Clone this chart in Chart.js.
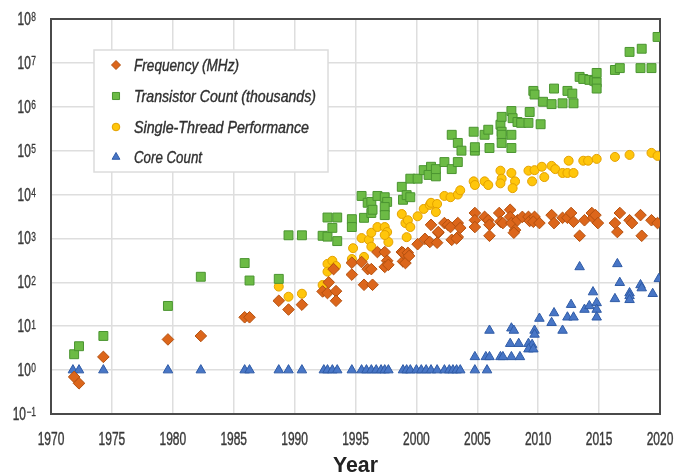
<!DOCTYPE html>
<html>
<head>
<meta charset="utf-8">
<script src="https://cdn.jsdelivr.net/npm/chart.js@4/dist/chart.umd.min.js"></script>
<style>
  html, body { margin: 0; padding: 0; background: #fff; }
  #wrap { width: 677px; height: 476px; }
</style>
</head>
<body>
<div id="wrap"><canvas id="trendChart" width="677" height="476"></canvas></div>
<script>
// --- DATA ---
const yearTicks = [1970, 1975, 1980, 1985, 1990, 1995, 2000, 2005, 2010, 2015, 2020];
const decadeTicks = [-1, 0, 1, 2, 3, 4, 5, 6, 7, 8];
const xTitle = "Year";

const freqYears = [1971.9, 1972.3, 1974.3, 1979.6, 1982.3, 1985.9, 1986.3, 1988.7, 1989.5, 1990.6,
  1992.3, 1992.7, 1992.8, 1993.2, 1993.4, 1993.4, 1994.7, 1994.7, 1995.5, 1995.7, 1996.4, 1996.0,
  1996.3, 1996.8, 1997.4, 1997.6, 1997.4, 1997.7, 1998.8, 1998.9, 1998.9, 1999.3, 1999.1, 1999.4,
  2000.1, 2000.7, 2001.1, 2001.7, 2001.8, 2002.9, 2003.4, 2003.3, 2001.2, 2001.8, 2002.3, 2002.6,
  2002.8, 2003.4, 2003.6, 2004.8, 2004.8, 2004.8, 2005.6, 2005.9, 2006.0, 2006.0, 2006.8, 2006.9,
  2007.1, 2007.7, 2007.7, 2007.8, 2008.1, 2008.0, 2008.3, 2008.7, 2009.2, 2009.3, 2009.7, 2009.6,
  2010.1, 2011.1, 2011.3, 2012.0, 2012.4, 2012.7, 2012.9, 2013.4, 2013.8, 2014.4, 2014.5, 2014.7,
  2014.9, 2016.3, 2016.5, 2016.7, 2017.5, 2017.7, 2018.4, 2018.5, 2019.3, 2019.8];
const freqValues = [0.7, 0.5, 2, 5, 6, 16, 16, 38, 24, 31,
  62, 57, 100, 200, 63, 38, 280, 150, 290, 88, 88, 200,
  200, 490, 490, 310, 225, 250, 490, 300, 470, 470, 275, 400,
  740, 980, 830, 800, 1350, 930, 1080, 1000, 2040, 1400, 2240, 2040,
  1820, 2240, 1740, 3800, 2600, 1820, 3100, 2600, 2050, 1150, 3800, 2400,
  2240, 4500, 3100, 2240, 1550, 1350, 2600, 3100, 3100, 2500, 3100, 2400,
  2240, 3400, 2240, 2950, 2950, 3800, 2400, 1150, 2600, 3800, 2950, 3400,
  2240, 2240, 1400, 3800, 2600, 2240, 3400, 1150, 2600, 2240];

const transYears = [1971.9, 1972.3, 1974.3, 1979.6, 1982.3, 1985.9, 1986.3, 1988.7, 1989.5, 1990.6,
  1992.3, 1992.7, 1993.1, 1992.7, 1993.5, 1993.5, 1994.7, 1994.7, 1995.5, 1995.7, 1996.0, 1996.3,
  1996.3, 1996.4, 1996.8, 1997.4, 1997.6, 1997.4, 1997.4, 1998.8, 1998.9, 1999.2, 1999.5, 1999.5,
  2000.1, 2000.6, 2001.2, 2001.0, 2001.6, 2001.6, 2002.3, 2002.9, 2003.4, 2002.9, 2003.4, 2003.7,
  2004.7, 2004.8, 2004.8, 2005.6, 2005.9, 2006.0, 2006.9, 2007.0, 2007.0, 2007.0, 2007.8, 2007.8,
  2007.0, 2007.8, 2007.9, 2008.3, 2008.6, 2009.2, 2010.2, 2009.3, 2009.6, 2009.7, 2010.4, 2011.1,
  2012.0, 2012.9, 2011.3, 2012.4, 2012.8, 2013.4, 2013.7, 2014.2, 2014.6, 2014.8, 2014.8, 2014.8,
  2016.3, 2016.7, 2017.5, 2018.5, 2018.4, 2019.3, 2019.8];
const transValues = [2.3, 3.5, 6, 29, 134, 275, 110, 120, 1180, 1180,
  1150, 1100, 1740, 3000, 3000, 870, 2750, 1820, 9300, 2950, 6500, 6800,
  3800, 4500, 9300, 8700, 6800, 5200, 3400, 15000, 7600, 9700, 8700, 23000,
  23000, 36000, 43000, 28000, 26000, 38000, 55000, 38000, 55000, 230000, 150000, 100000,
  270000, 100000, 120000, 230000, 300000, 115000, 390000, 270000, 230000, 150000, 230000, 115000,
  590000, 800000, 550000, 450000, 430000, 430000, 400000, 760000, 2300000, 1900000, 1300000, 1150000,
  1200000, 1200000, 2600000, 2300000, 2000000, 4800000, 4300000, 4100000, 3900000, 5900000, 3600000, 2600000,
  6900000, 7600000, 17800000, 21000000, 7600000, 7600000, 39000000];

const perfYears = [1988.7, 1989.5, 1990.6, 1992.3, 1992.7, 1993.1, 1992.7, 1993.4, 1994.7, 1994.8,
  1995.5, 1995.7, 1996.1, 1996.3, 1996.3, 1996.8, 1997.4, 1997.6, 1997.7, 1997.4, 1998.8, 1999.1,
  1999.3, 1999.5, 1999.2, 2000.1, 2000.6, 2001.1, 2001.2, 2001.7, 2001.6, 2002.3, 2002.8, 2003.4,
  2003.6, 2004.7, 2004.8, 2005.6, 2005.9, 2006.9, 2007.0, 2006.9, 2007.8, 2008.1, 2007.9, 2009.2,
  2009.7, 2010.3, 2009.5, 2010.5, 2011.1, 2011.4, 2012.0, 2012.4, 2012.9, 2012.5, 2013.7, 2014.1,
  2014.8, 2016.3, 2017.5, 2019.3, 2019.8];
const perfValues = [80, 47, 55, 87, 263, 310, 175, 235, 340, 600,
  1020, 380, 930, 1350, 650, 1820, 1820, 1400, 830, 1200, 3600, 2240,
  2600, 1820, 1070, 3200, 4700, 5800, 6500, 6100, 4000, 9300, 8700, 10000,
  12500, 20000, 16500, 20000, 16500, 35000, 23000, 18000, 31000, 20000, 14000, 35000,
  36000, 43000, 20000, 25000, 45000, 38000, 31000, 31000, 31000, 59000, 59000, 59000,
  65000, 72000, 80000, 89000, 76000];

const coreYears = [1971.8, 1972.3, 1974.3, 1979.6, 1982.3, 1985.9, 1986.3, 1988.7, 1989.5, 1990.6,
  1992.4, 1992.7, 1993.1, 1993.5, 1994.7, 1995.5, 1995.9, 1996.3, 1996.7, 1997.1, 1997.4, 1997.7,
  1998.9, 1999.2, 1999.5, 2000.0, 2000.4, 2000.8, 2001.2, 2001.7, 2002.3, 2002.7, 2003.0, 2003.3,
  2003.6, 2004.8, 2005.8, 2004.8, 2005.7, 2006.0, 2006.0, 2006.9, 2007.1, 2007.8, 2008.5, 2007.7,
  2008.4, 2007.8, 2008.0, 2009.2, 2009.5, 2009.2, 2009.6, 2009.7, 2009.7, 2010.1, 2011.1, 2011.3,
  2012.0, 2012.4, 2012.9, 2012.7, 2013.4, 2013.8, 2014.2, 2014.5, 2014.8, 2014.8, 2014.8, 2016.3,
  2016.5, 2016.7, 2017.5, 2017.5, 2017.5, 2018.4, 2018.5, 2019.4, 2019.9];
const coreValues = [1, 1, 1, 1, 1, 1, 1, 1, 1, 1,
  1, 1, 1, 1, 1, 1, 1, 1, 1, 1, 1, 1,
  1, 1, 1, 1, 1, 1, 1, 1, 1, 1, 1, 1,
  1, 1, 1, 2, 2, 2, 8, 2, 2, 2, 2, 4,
  4, 9, 8, 4, 3.8, 3, 3, 8, 6.5, 15, 12, 20,
  8, 16, 16, 31, 224, 24, 29, 60, 34, 24, 16, 42,
  263, 98, 57, 49, 40, 87, 74, 55, 120];

const seriesLabels = ["Frequency (MHz)", "Transistor Count (thousands)", "Single-Thread Performance", "Core Count"];

// --- HELPERS ---
const FONT = "'Liberation Sans', 'Arial', sans-serif";
const SQUEEZE = 0.63; // the original uses a narrow DIN-like face

function pts(xs, ys) {
  return xs.map((x, i) => ({ x: x, y: ys[i] }));
}

// draw text squeezed horizontally, anchored at x by align
function squeezed(ctx, text, x, y, sx, align, heavy) {
  const w = ctx.measureText(text).width * sx;
  let left = x;
  if (align === "center") left = x - w / 2;
  if (align === "right") left = x - w;
  ctx.save();
  ctx.translate(left, y);
  ctx.scale(sx, 1);
  ctx.textAlign = "left";
  ctx.fillText(text, 0, 0);
  if (heavy) {
    ctx.strokeStyle = ctx.fillStyle;
    ctx.lineWidth = heavy;
    ctx.strokeText(text, 0, 0);
  }
  ctx.restore();
  return w;
}

// axis labels, legend and frame drawn on top of the library scales
const decorations = {
  id: "decorations",
  beforeDatasetsDraw(chart) {
    const { ctx, chartArea: a } = chart;
    ctx.save();
    ctx.strokeStyle = "#4a4a4a";
    ctx.lineWidth = 2;
    ctx.strokeRect(a.left, a.top, a.right - a.left, a.bottom - a.top);
    ctx.restore();
  },
  afterDatasetsDraw(chart) {
    const { ctx } = chart;
    const xs = chart.scales.x, ys = chart.scales.y;
    ctx.save();

    // legend box
    ctx.fillStyle = "#fff";
    ctx.strokeStyle = "#dcdcdc";
    ctx.lineWidth = 1.5;
    ctx.fillRect(94, 50, 234, 122);
    ctx.strokeRect(94, 50, 234, 122);
    const rows = [65, 96, 127, 157];
    const widths = [105, 182, 175, 68];
    const markR = [4.5, 5, 3.8, 4.5];
    chart.data.datasets.forEach((ds, i) => {
      ctx.fillStyle = ds.backgroundColor;
      ctx.strokeStyle = ds.borderColor;
      ctx.lineWidth = 1;
      Chart.helpers.drawPoint(ctx, {
        pointStyle: ds.pointStyle, radius: markR[i], rotation: 0, borderWidth: 1
      }, 116, rows[i]);
      ctx.fillStyle = "#303030";
      ctx.font = "italic 17px " + FONT;
      ctx.textBaseline = "middle";
      const natural = ctx.measureText(ds.label).width;
      squeezed(ctx, ds.label, 134, rows[i] + 1, widths[i] / natural, "left", 0.4);
    });

    // x tick labels
    ctx.fillStyle = "#3a3a3a";
    ctx.font = "19px " + FONT;
    ctx.textBaseline = "middle";
    yearTicks.forEach(v => {
      squeezed(ctx, String(v), xs.getPixelForValue(v), 440, SQUEEZE, "center", 0.45);
    });

    // y tick labels: 10 with a raised exponent
    decadeTicks.forEach(e => {
      const py = ys.getPixelForValue(Math.pow(10, e));
      ctx.font = "12px " + FONT;
      ctx.textBaseline = "top";
      const ew = squeezed(ctx, String(e).replace("-", "\u2212"), 36, py - 7, 0.7, "right", 0.3);
      ctx.font = "18px " + FONT;
      ctx.textBaseline = "middle";
      squeezed(ctx, "10", 36 - ew - 0.5, py + 1, 0.66, "right", 0.45);
    });

    // axis title
    ctx.fillStyle = "#222";
    ctx.font = "bold 22px " + FONT;
    ctx.textBaseline = "middle";
    const tw = ctx.measureText(xTitle).width;
    squeezed(ctx, xTitle, (chart.chartArea.left + chart.chartArea.right) / 2, 466, 45 / tw, "center");

    ctx.restore();
  }
};

function createChart() {
  const ctx = document.getElementById("trendChart").getContext("2d");
  return new Chart(ctx, {
    type: "scatter",
    data: {
      datasets: [{
        label: seriesLabels[0],
        data: pts(freqYears, freqValues),
        pointStyle: "rectRot",
        pointRadius: 5.8,
        backgroundColor: "#dc661b",
        borderColor: "#b3500f",
        borderWidth: 1
      }, {
        label: seriesLabels[1],
        data: pts(transYears, transValues),
        pointStyle: "rect",
        pointRadius: 6.3,
        backgroundColor: "#6cbb45",
        borderColor: "#4a9430",
        borderWidth: 1
      }, {
        label: seriesLabels[2],
        data: pts(perfYears, perfValues),
        pointStyle: "circle",
        pointRadius: 4.5,
        backgroundColor: "#ffc60b",
        borderColor: "#e3a100",
        borderWidth: 1
      }, {
        label: seriesLabels[3],
        data: pts(coreYears, coreValues),
        pointStyle: "triangle",
        pointRadius: 5.5,
        backgroundColor: "#4876c6",
        borderColor: "#2f5ba6",
        borderWidth: 1
      }]
    },
    options: {
      animation: false,
      responsive: false,
      layout: { padding: { top: 19, right: 17, left: 0, bottom: 0 } },
      plugins: {
        legend: { display: false },
        tooltip: { enabled: false }
      },
      scales: {
        x: {
          type: "linear",
          min: 1970,
          max: 2020,
          afterBuildTicks: s => { s.ticks = yearTicks.map(v => ({ value: v })); },
          afterFit: s => { s.height = 62; },
          grid: { color: "#dedede", lineWidth: 1.5, drawTicks: false },
          border: { display: false },
          ticks: { display: false }
        },
        y: {
          type: "logarithmic",
          min: 0.1,
          max: 1e8,
          afterBuildTicks: s => { s.ticks = decadeTicks.map(e => ({ value: Math.pow(10, e) })); },
          afterFit: s => { s.width = 51; },
          grid: { color: "#dedede", lineWidth: 1.5, drawTicks: false },
          border: { display: false },
          ticks: { display: false }
        }
      }
    },
    plugins: [decorations]
  });
}

createChart();
</script>
</body>
</html>
